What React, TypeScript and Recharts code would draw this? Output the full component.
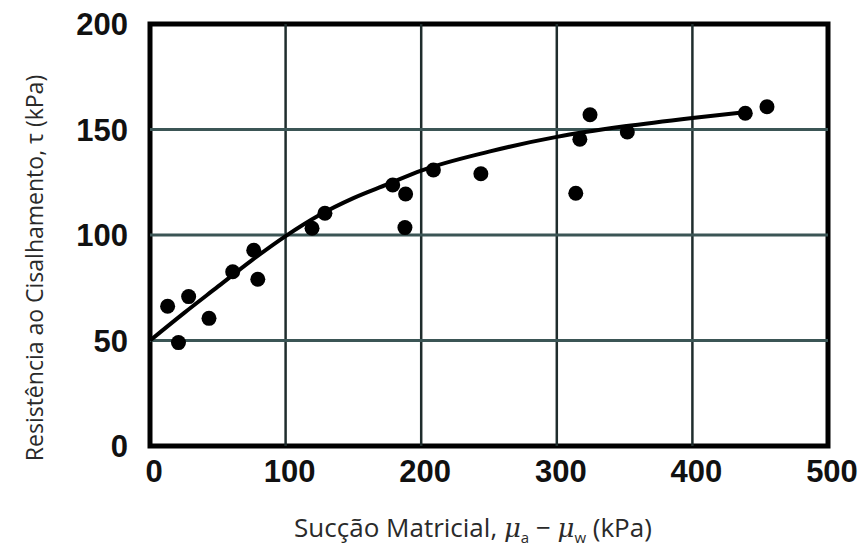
import React from "react";
import {
  ScatterChart,
  Scatter,
  XAxis,
  YAxis,
  ReferenceLine,
  ReferenceArea,
} from "recharts";

// Tick values
const xTicks = [0, 100, 200, 300, 400, 500];
const yTicks = [0, 50, 100, 150, 200];
const xGrid = [100, 200, 300, 400];
const yGrid = [50, 100, 150];

// Measured points: matric suction (kPa) vs shear strength (kPa)
const pointSuction = [13, 21, 28.5, 43.5, 61, 76.5, 79.5, 119.5, 129, 179, 188.5, 188, 209, 244, 314, 317, 324.5, 352, 439, 455];
const pointStrength = [66.2, 49, 70.8, 60.5, 82.6, 92.8, 79, 103.2, 110.3, 123.7, 119.4, 103.5, 130.8, 129, 119.8, 145.4, 157, 148.8, 157.7, 160.8];

// Fitted curve
const curveSuction = [0, 25, 50, 75, 100, 125, 150, 175, 200, 250, 300, 350, 400, 440];
const curveStrength = [50, 63, 75.5, 88, 99.5, 109.5, 117.5, 124, 130.5, 139.5, 146.5, 151.5, 155.5, 158.3];

const points = pointSuction.map((x, i) => ({ x, y: pointStrength[i] }));
const curve = curveSuction.map((x, i) => ({ x, y: curveStrength[i] }));

const tickFont = {
  fontFamily: "'Liberation Sans', Arial, sans-serif",
  fontWeight: 700,
  fontSize: 31,
  fill: "#111",
};

const labelFont = "'Open Sans', 'Noto Sans', sans-serif";

const XLabel = () => {
  const cx = 473;
  const y = 537;
  return (
    <text x={cx} y={y} textAnchor="middle" fontFamily={labelFont} fontSize={26} fill="#2a2a2a">
      <tspan>Sucção Matricial, </tspan>
      <tspan fontStyle="italic" fontFamily="'DejaVu Serif', serif">μ</tspan>
      <tspan fontSize={15} dy={6}>a</tspan>
      <tspan dy={-6}> − </tspan>
      <tspan fontStyle="italic" fontFamily="'DejaVu Serif', serif">μ</tspan>
      <tspan fontSize={15} dy={6}>w</tspan>
      <tspan dy={-6}> (kPa)</tspan>
    </text>
  );
};

const YLabel = () => {
  const cx = 34;
  const cy = 268;
  return (
    <text
      x={cx}
      y={cy}
      textAnchor="middle"
      dominantBaseline="central"
      fontFamily={labelFont}
      fontSize={23}
      fill="#2a2a2a"
      transform={`rotate(-90, ${cx}, ${cy})`}
    >
      Resistência ao Cisalhamento, τ (kPa)
    </text>
  );
};

const Dot = (props: any) => {
  const { cx, cy } = props;
  return <circle cx={cx} cy={cy} r={7.5} fill="#000" />;
};

const NoDot = () => <g />;

export default function App() {
  return (
    <div style={{ position: "absolute", left: 0, top: 0, width: 868, height: 550, background: "#fff" }}>
      <ScatterChart width={868} height={550} margin={{ top: 24, right: 40, bottom: 0, left: 0 }}>
        <XAxis
          type="number"
          dataKey="x"
          domain={[0, 500]}
          ticks={xTicks}
          interval={0}
          allowDataOverflow
          axisLine={false}
          tickLine={false}
          tickSize={0}
          tickMargin={14}
          height={104}
          tick={{ ...tickFont, dx: 4 }}
          label={<XLabel />}
        />
        <YAxis
          type="number"
          dataKey="y"
          domain={[0, 200]}
          ticks={yTicks}
          interval={0}
          allowDataOverflow
          axisLine={false}
          tickLine={false}
          tickSize={0}
          tickMargin={22}
          width={150}
          tick={tickFont}
          label={<YLabel />}
        />
        {xGrid.map((v) => (
          <ReferenceLine key={"x" + v} x={v} stroke="#1f2d2d" strokeWidth={2.5} />
        ))}
        {yGrid.map((v) => (
          <ReferenceLine key={"y" + v} y={v} stroke="#3b5555" strokeWidth={3} />
        ))}
        <ReferenceArea x1={0} x2={500} y1={0} y2={200} fill="none" stroke="#000" strokeWidth={5} ifOverflow="visible" />
        <Scatter
          data={curve}
          shape={<NoDot />}
          line={{ stroke: "#000", strokeWidth: 4 }}
          lineJointType="monotoneX"
          isAnimationActive={false}
        />
        <Scatter data={points} shape={<Dot />} isAnimationActive={false} />
      </ScatterChart>
    </div>
  );
}
